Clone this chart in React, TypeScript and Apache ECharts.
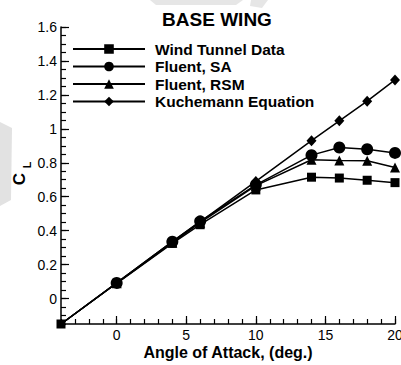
import React, { useEffect, useRef } from "react";
import * as echarts from "echarts";

// ---- data ----
const alpha = [-4, 0, 4, 6, 10, 14, 16, 18, 20];
const windTunnel = [-0.15, 0.09, 0.325, 0.435, 0.64, 0.715, 0.71, 0.697, 0.683];
const fluentSA = [-0.15, 0.092, 0.335, 0.455, 0.67, 0.845, 0.89, 0.88, 0.858];
const fluentRSM = [-0.15, 0.09, 0.33, 0.447, 0.665, 0.818, 0.813, 0.812, 0.772];
const kuchemann = [-0.15, 0.093, 0.335, 0.452, 0.69, 0.93, 1.047, 1.163, 1.288];

const seriesNames = ["Wind Tunnel Data", "Fluent, SA", "Fluent, RSM", "Kuchemann Equation"];
const xMajorTicks = [0, 5, 10, 15, 20];
const yMajorTicks = [0, 0.2, 0.4, 0.6, 0.8, 1, 1.2, 1.4, 1.6];

const FONT = "'Liberation Sans', Arial, Helvetica, sans-serif";

export default function App() {
  const ref = useRef<HTMLDivElement>(null);
  useEffect(() => {
    document.body.style.margin = "0";
    if (!ref.current) return;
    const chart = echarts.init(ref.current, undefined, { renderer: "svg" });

    const mk = (vals: number[], hideFirst: boolean) =>
      alpha.map((a, i) =>
        i === 0 && hideFirst ? { value: [a, vals[i]], symbol: "none" } : [a, vals[i]]
      );

    const lineBase = {
      type: "line",
      xAxisIndex: 0,
      yAxisIndex: 0,
      lineStyle: { color: "#000", width: 1.5 },
      itemStyle: { color: "#000" },
      showAllSymbol: true,
    };

    chart.setOption({
      animation: false,
      backgroundColor: "#fff",
      textStyle: { fontFamily: FONT },
      title: {
        text: "BASE WING",
        left: 212,
        textAlign: "center",
        top: 5,
        textStyle: { fontFamily: FONT, fontWeight: "bold", fontSize: 19, color: "#000" },
      },
      legend: {
        orient: "vertical",
        left: 67,
        top: 36,
        itemWidth: 72,
        itemHeight: 12,
        itemGap: 1.5,
        data: seriesNames,
        lineStyle: { width: 2, color: "#000" },
        textStyle: {
          fontFamily: FONT,
          fontWeight: "bold",
          fontSize: 15.5,
          lineHeight: 15,
          color: "#000",
          padding: [0, 0, 0, 5],
        },
        selectedMode: false,
      },
      grid: {
        left: 61,
        right: 6,
        top: 27,
        bottom: 41,
        containLabel: false,
        outerBoundsMode: "none",
      },
      xAxis: [
        {
          type: "value",
          min: -4,
          max: 20,
          position: "bottom",
          name: "Angle of Attack, (deg.)",
          nameLocation: "middle",
          nameGap: 20,
          nameMoveOverlap: false,
          nameTextStyle: { fontFamily: FONT, fontWeight: "bold", fontSize: 16, color: "#000" },
          axisLine: { show: true, onZero: false, lineStyle: { color: "#000", width: 1.5 } },
          axisTick: { show: true, inside: true, length: 8, customValues: xMajorTicks, lineStyle: { color: "#000", width: 1.2 } },
          axisLabel: {
            show: true,
            customValues: xMajorTicks,
            margin: 4,
            fontSize: 14,
            color: "#000",
            fontFamily: FONT,
            hideOverlap: false,
            formatter: (v: number) => String(Math.round(v)),
          },
          splitLine: { show: false },
        },
        {
          type: "value",
          min: -4,
          max: 20,
          interval: 1,
          position: "bottom",
          axisLine: { show: false, onZero: false },
          axisTick: { show: true, inside: true, length: 5, lineStyle: { color: "#000", width: 1.2 } },
          axisLabel: { show: false },
          splitLine: { show: false },
        },
      ],
      yAxis: [
        {
          type: "value",
          min: -0.15,
          max: 1.6,
          position: "left",
          axisLine: { show: true, onZero: false, lineStyle: { color: "#000", width: 1.5 } },
          axisTick: { show: true, inside: true, length: 8, customValues: yMajorTicks, lineStyle: { color: "#000", width: 1.2 } },
          axisLabel: {
            show: true,
            customValues: yMajorTicks,
            margin: 4,
            fontSize: 14,
            color: "#000",
            fontFamily: FONT,
            formatter: (v: number) => String(Math.round(v * 10) / 10),
          },
          splitLine: { show: false },
        },
        {
          type: "value",
          min: -0.15,
          max: 1.6,
          interval: 0.05,
          position: "left",
          axisLine: { show: false, onZero: false },
          axisTick: { show: true, inside: true, length: 5, lineStyle: { color: "#000", width: 1.2 } },
          axisLabel: { show: false },
          splitLine: { show: false },
        },
      ],
      graphic: [
        {
          type: "polygon",
          z: -10,
          shape: { points: [[0, 122], [12, 128], [11, 200], [0, 206]] },
          style: { fill: "#e2e2e2" },
          silent: true,
        },
        {
          type: "polygon",
          z: -10,
          shape: { points: [[150, 0], [243, 0], [236, 5], [156, 5]] },
          style: { fill: "#e6e6e6" },
          silent: true,
        },
        {
          type: "polygon",
          z: -10,
          shape: { points: [[251, 0], [268, 0], [262, 8], [250, 6]] },
          style: { fill: "#e6e6e6" },
          silent: true,
        },
        {
          type: "text",
          x: 19,
          y: 179,
          rotation: Math.PI / 2,
          style: {
            text: "C",
            font: `bold 17px ${FONT}`,
            fill: "#000",
            textAlign: "center",
            textVerticalAlign: "middle",
          },
        },
        {
          type: "text",
          x: 27,
          y: 165,
          rotation: Math.PI / 2,
          style: {
            text: "L",
            font: `bold 11px ${FONT}`,
            fill: "#000",
            textAlign: "center",
            textVerticalAlign: "middle",
          },
        },
      ],
      series: [
        { ...lineBase, name: seriesNames[3], symbol: "diamond", symbolSize: [10, 11], z: 2, data: mk(kuchemann, true) },
        { ...lineBase, name: seriesNames[2], symbol: "triangle", symbolSize: 10, z: 3, data: mk(fluentRSM, true) },
        { ...lineBase, name: seriesNames[0], symbol: "rect", symbolSize: 9, z: 4, data: mk(windTunnel, false) },
        { ...lineBase, name: seriesNames[1], symbol: "circle", symbolSize: 12, z: 5, data: mk(fluentSA, true) },
      ],
    });
    return () => chart.dispose();
  }, []);
  return <div ref={ref} style={{ width: 401, height: 365 }} />;
}
